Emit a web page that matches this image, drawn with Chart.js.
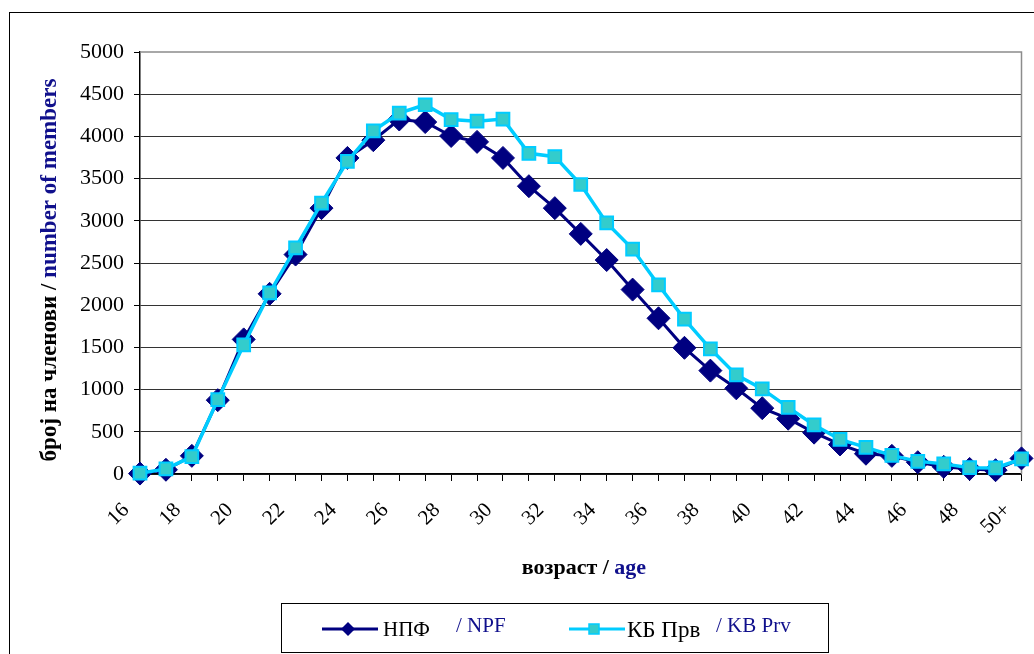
<!DOCTYPE html>
<html>
<head>
<meta charset="utf-8">
<script src="https://cdn.jsdelivr.net/npm/chart.js@4.4.0/dist/chart.umd.min.js"></script>
<style>
html,body{margin:0;padding:0;background:#fff;}
#wrap{position:relative;width:1034px;height:654px;}
</style>
</head>
<body>
<div id="wrap"><canvas id="c" width="1034" height="654"></canvas></div>
<script>
// ---- data ----
const ages = ['16','17','18','19','20','21','22','23','24','25','26','27','28','29','30','31','32','33','34','35','36','37','38','39','40','41','42','43','44','45','46','47','48','49','50+'];
const npf = [5, 50, 215, 875, 1595, 2135, 2600, 3150, 3745, 3955, 4200, 4170, 4005, 3935, 3745, 3410, 3150, 2845, 2535, 2185, 1845, 1495, 1225, 1015, 780, 655, 490, 350, 240, 215, 140, 85, 60, 45, 185];
const kbPrv = [10, 60, 205, 880, 1530, 2145, 2680, 3210, 3705, 4065, 4275, 4375, 4200, 4180, 4205, 3800, 3760, 3430, 2975, 2665, 2240, 1835, 1483, 1174, 1008, 790, 581, 410, 316, 220, 150, 120, 75, 72, 178];
const seriesLocal = ['НПФ', 'КБ Прв'];
const seriesEn = ['/ NPF', '/ KB Prv'];
const yTitleParts = ['број на членови / ', 'number of members'];
const xTitleParts = ['возраст / ', 'age'];

const NAVY = '#000080';
const TXT_NAVY = '#10108c';
const CYAN = '#00CCFF';
const TEAL = '#33CCCC';
const SERIF = "'Liberation Serif', 'Times New Roman', serif";

function drawParts(ctx, parts, colors, cx, baseline) {
  let total = 0;
  const widths = parts.map(p => { const w = ctx.measureText(p).width; total += w; return w; });
  let x = cx - total / 2;
  parts.forEach((p, i) => { ctx.fillStyle = colors[i]; ctx.fillText(p, x, baseline); x += widths[i]; });
}

const deco = {
  id: 'deco',
  beforeDatasetsDraw(chart) {
    const ctx = chart.ctx, a = chart.chartArea;
    ctx.save();
    ctx.strokeStyle = '#8c8c8c';
    ctx.lineWidth = 1.5;
    ctx.beginPath();
    ctx.moveTo(a.left, a.top);
    ctx.lineTo(a.right, a.top);
    ctx.lineTo(a.right, a.bottom);
    ctx.stroke();
    ctx.restore();
  },
  afterDraw(chart) {
    const ctx = chart.ctx, a = chart.chartArea;
    const xs = chart.scales.x;
    ctx.save();
    // outer chart border
    ctx.strokeStyle = '#000';
    ctx.lineWidth = 1;
    ctx.strokeRect(9.5, 12.5, 1100, 700);

    // x tick labels (every second category), rotated 45°
    ctx.font = '21px ' + SERIF;
    ctx.fillStyle = '#000';
    ctx.textAlign = 'right';
    ctx.textBaseline = 'middle';
    ages.forEach((lab, i) => {
      if (i % 2 !== 0) return;
      const px = xs.getPixelForValue(i);
      ctx.save();
      ctx.translate(px - 14, a.bottom + 33);
      ctx.rotate(-Math.PI / 4);
      ctx.fillText(lab, 0, 0);
      ctx.restore();
    });

    ctx.textAlign = 'left';
    ctx.textBaseline = 'alphabetic';
    // y-axis title
    ctx.font = 'bold 23px ' + SERIF;
    ctx.save();
    ctx.translate(56, 270);
    ctx.rotate(-Math.PI / 2);
    drawParts(ctx, yTitleParts, ['#000', TXT_NAVY], 0, 0);
    ctx.restore();

    // x-axis title
    ctx.font = 'bold 22px ' + SERIF;
    drawParts(ctx, xTitleParts, ['#000', TXT_NAVY], 584, 574);

    // legend
    ctx.strokeStyle = '#000';
    ctx.lineWidth = 1;
    ctx.strokeRect(281.5, 603.5, 547, 49);

    // item 1
    ctx.strokeStyle = NAVY; ctx.lineWidth = 3;
    ctx.beginPath(); ctx.moveTo(322, 629); ctx.lineTo(378, 629); ctx.stroke();
    ctx.fillStyle = NAVY;
    ctx.beginPath();
    ctx.moveTo(348 - 7, 629); ctx.lineTo(348, 622); ctx.lineTo(348 + 7, 629); ctx.lineTo(348, 636);
    ctx.closePath(); ctx.fill();
    ctx.font = '21px ' + SERIF;
    ctx.fillStyle = '#000';
    ctx.fillText(seriesLocal[0], 383, 636);
    ctx.fillStyle = TXT_NAVY;
    ctx.fillText(seriesEn[0], 456, 632);

    // item 2
    ctx.strokeStyle = CYAN; ctx.lineWidth = 3;
    ctx.beginPath(); ctx.moveTo(569, 629); ctx.lineTo(625, 629); ctx.stroke();
    ctx.fillStyle = TEAL; ctx.strokeStyle = CYAN; ctx.lineWidth = 1.5;
    ctx.fillRect(589, 624, 10, 10); ctx.strokeRect(589, 624, 10, 10);
    ctx.font = '23px ' + SERIF;
    ctx.fillStyle = '#000';
    ctx.fillText(seriesLocal[1], 627, 637);
    ctx.font = '21px ' + SERIF;
    ctx.fillStyle = TXT_NAVY;
    ctx.fillText(seriesEn[1], 716, 632);
    ctx.restore();
  }
};

new Chart(document.getElementById('c'), {
  type: 'line',
  data: {
    labels: ages,
    datasets: [
      {
        label: seriesLocal[0] + ' ' + seriesEn[0],
        data: npf,
        borderColor: NAVY,
        backgroundColor: NAVY,
        borderWidth: 3,
        pointStyle: 'rectRot',
        pointRadius: 11.5,
        pointHoverRadius: 11.5,
        pointBackgroundColor: NAVY,
        pointBorderColor: NAVY,
        pointBorderWidth: 1,
        tension: 0,
        clip: false,
        order: 2
      },
      {
        label: seriesLocal[1] + ' ' + seriesEn[1],
        data: kbPrv,
        borderColor: CYAN,
        backgroundColor: TEAL,
        borderWidth: 3.5,
        pointStyle: 'rect',
        pointRadius: 9,
        pointHoverRadius: 9,
        pointBackgroundColor: TEAL,
        pointBorderColor: CYAN,
        pointBorderWidth: 2,
        tension: 0,
        clip: false,
        order: 1
      }
    ]
  },
  options: {
    responsive: false,
    animation: false,
    devicePixelRatio: 1,
    layout: { padding: { left: 0, right: 4, top: 52, bottom: 0 } },
    plugins: { legend: { display: false }, tooltip: { enabled: false } },
    scales: {
      x: {
        type: 'category',
        offset: false,
        grid: { display: true, drawOnChartArea: false, drawTicks: true, tickLength: 7, tickColor: '#000', lineWidth: 1 },
        border: { display: true, color: '#000', width: 1.5 },
        ticks: {
          autoSkip: false,
          maxRotation: 0,
          minRotation: 0,
          color: '#000',
          font: { family: SERIF, size: 20 },
          callback: function () { return ''; }
        },
        afterFit(s) { s.height = 180; s.paddingLeft = 0; s.paddingRight = 0; }
      },
      y: {
        min: 0,
        max: 5000,
        ticks: {
          stepSize: 500, color: '#000', padding: 10, font: { family: SERIF, size: 22 },
          callback: function (v) { return String(v); }
        },
        grid: {
          drawTicks: true,
          tickLength: 6,
          tickColor: '#000',
          color: (c) => (c.tick && c.tick.value === 5000) ? 'rgba(0,0,0,0)' : '#333',
          lineWidth: 1
        },
        border: { display: true, color: '#000', width: 1.5 },
        afterFit(s) { s.width = 140; s.paddingTop = 0; s.paddingBottom = 0; }
      }
    }
  },
  plugins: [deco]
});
</script>
</body>
</html>
